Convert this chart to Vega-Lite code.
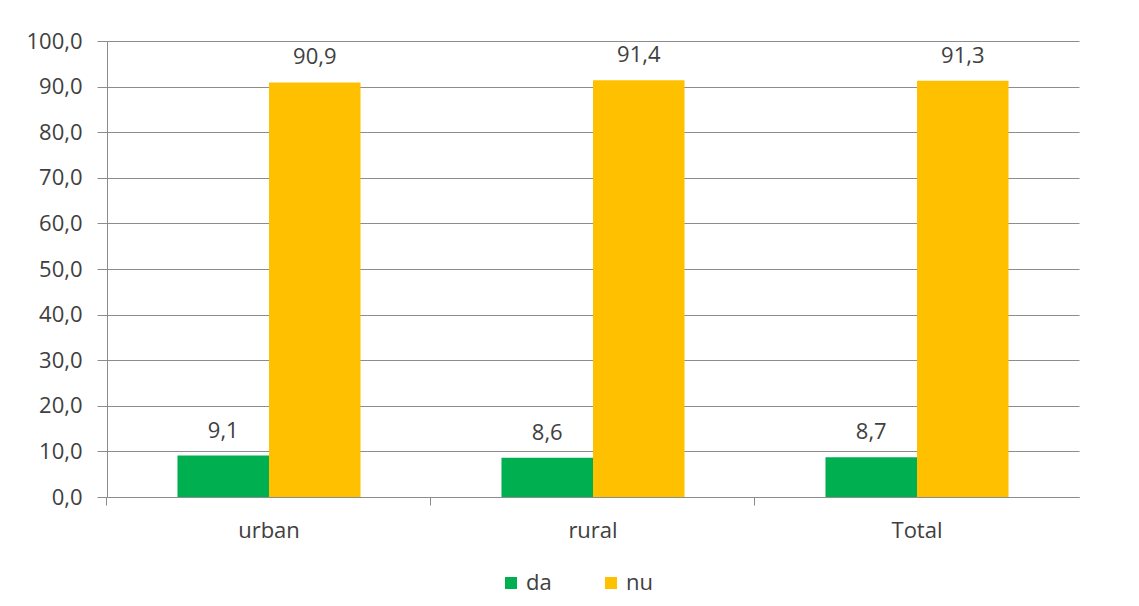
{
  "$schema": "https://vega.github.io/schema/vega-lite/v6.json",
  "width": 972,
  "height": 456,
  "autosize": "none",
  "padding": {"left": 107, "top": 41, "right": 60, "bottom": 109},
  "background": "white",
  "config": {
    "view": {"stroke": null},
    "font": "Open Sans",
    "locale": {"number": {"decimal": ",", "thousands": ".", "grouping": [3], "currency": ["", " €"]}}
  },
  "data": {
    "values": [
      {"area": "urban", "resp": "da", "value": 9.1},
      {"area": "urban", "resp": "nu", "value": 90.9},
      {"area": "rural", "resp": "da", "value": 8.6},
      {"area": "rural", "resp": "nu", "value": 91.4},
      {"area": "Total", "resp": "da", "value": 8.7},
      {"area": "Total", "resp": "nu", "value": 91.3}
    ]
  },
  "encoding": {
    "x": {
      "field": "area", "type": "nominal", "sort": ["urban", "rural", "Total"],
      "scale": {"paddingInner": 0.435, "paddingOuter": 0.2175},
      "axis": {
        "title": null, "labelAngle": 0, "labelFontSize": 22, "labelColor": "#404040",
        "labelFont": "Open Sans", "domainColor": "#8c8c8c", "tickColor": "#8c8c8c",
        "tickSize": 8, "bandPosition": -0.385, "labelPadding": 15, "grid": false
      }
    },
    "xOffset": {"field": "resp", "type": "nominal", "sort": ["da", "nu"]},
    "y": {
      "field": "value", "type": "quantitative",
      "scale": {"domain": [0, 100], "nice": false},
      "axis": {
        "title": null, "values": [0,10,20,30,40,50,60,70,80,90,100], "labelOverlap": false,
        "format": ".1f", "labelFontSize": 22, "labelColor": "#404040", "labelFont": "Open Sans",
        "domainColor": "#8c8c8c", "tickColor": "#8c8c8c", "tickSize": 10, "labelPadding": 15,
        "gridColor": "#8c8c8c", "gridWidth": 1
      }
    }
  },
  "layer": [
    {
      "mark": {"type": "bar"},
      "encoding": {
        "color": {
          "field": "resp", "type": "nominal",
          "scale": {"domain": ["da", "nu"], "range": ["#00B050", "#FFC000"]},
          "legend": {
            "title": null, "orient": "none", "direction": "horizontal",
            "legendX": 393, "legendY": 531, "symbolType": "square", "symbolSize": 144,
            "symbolStrokeWidth": 0, "labelFontSize": 22, "labelColor": "#404040",
            "labelFont": "Open Sans", "labelOffset": 4, "columnPadding": 48
          }
        }
      }
    },
    {
      "mark": {"type": "text", "baseline": "alphabetic", "dy": -18, "fontSize": 22, "color": "#404040", "font": "Open Sans"},
      "encoding": {
        "text": {"field": "value", "type": "quantitative", "format": ".1f"}
      }
    }
  ]
}
